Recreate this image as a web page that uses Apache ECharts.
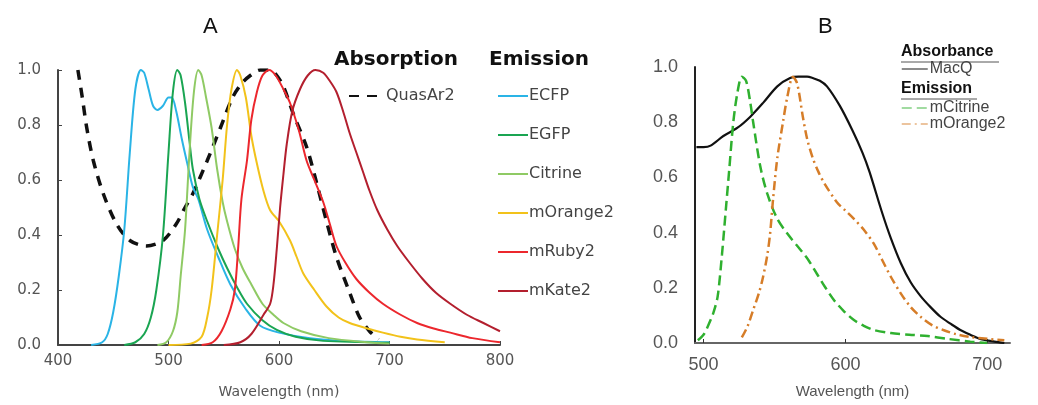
<!DOCTYPE html>
<html>
<head>
<meta charset="utf-8">
<script src="https://cdn.jsdelivr.net/npm/echarts@6/dist/echarts.min.js"></script>
<style>
  html, body { margin: 0; padding: 0; background: #ffffff; }
  #main { width: 1038px; height: 405px; }
</style>
</head>
<body>
<div id="main"></div>
<script>
// panel A: [wavelength nm, normalised value]
var quasAr2 = [[418,1.0],[422,0.9],[426,0.79],[432,0.67],[441,0.55],[453,0.44],[465,0.38],[480,0.36],[495,0.38],[507,0.44],[515,0.5],[522,0.55],[535,0.67],[547,0.79],[558,0.9],[566,0.95],[574,0.98],[583,1.0],[592,1.0],[598,0.98],[604,0.94],[613,0.84],[625,0.72],[634,0.59],[643,0.45],[652,0.32],[664,0.19],[673,0.1],[682,0.05],[690,0.02]];
var ecfp = [[430,0],[440,0.01],[445,0.04],[450,0.12],[455,0.25],[460,0.42],[465,0.7],[470,0.93],[475,1.0],[478,0.99],[482,0.93],[486,0.87],[490,0.855],[495,0.87],[500,0.9],[503,0.9],[507,0.85],[512,0.75],[517,0.66],[522,0.575],[527,0.53],[535,0.42],[545,0.32],[556,0.22],[570,0.13],[583,0.07],[600,0.045],[628,0.025],[660,0.015],[700,0.01]];
var egfp = [[460,0],[470,0.01],[478,0.04],[484,0.1],[489,0.2],[495,0.4],[500,0.7],[504,0.92],[508,1.0],[511,0.98],[515,0.88],[519,0.74],[522,0.64],[528,0.53],[535,0.45],[545,0.35],[553,0.28],[562,0.21],[571,0.15],[585,0.09],[598,0.055],[615,0.03],[640,0.015],[700,0.008]];
var citrine = [[490,0],[498,0.01],[504,0.05],[508,0.12],[511,0.25],[515,0.42],[519,0.7],[523,0.92],[527,1.0],[530,0.98],[534,0.9],[539,0.79],[544,0.64],[549,0.52],[553,0.45],[560,0.35],[567,0.28],[575,0.22],[585,0.15],[595,0.11],[604,0.08],[620,0.05],[645,0.025],[680,0.01],[700,0.005]];
var mOrange2 = [[500,0],[520,0.005],[530,0.03],[535,0.1],[539,0.2],[544,0.4],[549,0.6],[553,0.8],[557,0.93],[562,1.0],[565,0.98],[570,0.9],[575,0.76],[580,0.66],[586,0.56],[592,0.49],[600,0.45],[610,0.38],[616,0.32],[622,0.26],[632,0.2],[643,0.14],[654,0.1],[664,0.08],[680,0.06],[694,0.045],[710,0.03],[725,0.02],[750,0.01]];
var mRuby2 = [[530,0],[540,0.01],[548,0.05],[556,0.13],[560,0.2],[563,0.35],[566,0.53],[571,0.67],[575,0.82],[580,0.92],[585,0.98],[591,1.0],[597,0.98],[604,0.93],[610,0.88],[618,0.78],[625,0.67],[632,0.6],[640,0.52],[646,0.44],[652,0.36],[660,0.3],[670,0.24],[682,0.19],[694,0.15],[710,0.11],[725,0.08],[740,0.06],[755,0.045],[775,0.025],[800,0.01]];
var mKate2 = [[550,0],[565,0.01],[575,0.04],[586,0.11],[592,0.15],[595,0.22],[598,0.35],[601,0.5],[604,0.62],[607,0.73],[612,0.85],[619,0.93],[626,0.98],[633,1.0],[640,0.99],[646,0.96],[652,0.92],[658,0.85],[664,0.77],[670,0.7],[676,0.63],[682,0.56],[689,0.49],[698,0.42],[707,0.36],[718,0.3],[730,0.24],[742,0.19],[755,0.15],[770,0.11],[785,0.08],[800,0.05]];

// panel B
var macQ = [[495,0.71],[500,0.71],[505,0.715],[514,0.75],[524,0.78],[533,0.82],[542,0.87],[552,0.93],[561,0.96],[567,0.965],[573,0.965],[577,0.96],[582,0.95],[587,0.93],[596,0.86],[605,0.77],[612,0.69],[617,0.62],[626,0.47],[632,0.38],[639,0.29],[646,0.22],[653,0.17],[660,0.13],[667,0.095],[674,0.07],[681,0.047],[688,0.03],[695,0.015],[705,0.005],[712,0.0]];
var mCitrine = [[496,0.01],[500,0.03],[503,0.06],[507,0.11],[510,0.17],[513,0.32],[516,0.5],[518,0.62],[521,0.8],[524,0.91],[527,0.965],[530,0.95],[533,0.87],[535,0.8],[540,0.64],[545,0.54],[552,0.45],[560,0.39],[568,0.34],[574,0.3],[580,0.25],[586,0.2],[592,0.155],[599,0.115],[606,0.083],[613,0.062],[620,0.047],[632,0.036],[645,0.03],[658,0.025],[672,0.015],[688,0.005],[700,0]];
var mOrange2B = [[527,0.02],[531,0.06],[535,0.12],[539,0.18],[542,0.24],[545,0.32],[547,0.4],[549,0.52],[552,0.67],[556,0.8],[559,0.89],[563,0.965],[566,0.94],[570,0.82],[573,0.74],[577,0.67],[581,0.62],[585,0.58],[594,0.51],[600,0.48],[606,0.45],[613,0.41],[620,0.36],[626,0.3],[632,0.24],[639,0.18],[646,0.13],[653,0.095],[661,0.065],[669,0.047],[678,0.032],[688,0.022],[700,0.015],[712,0.01]];

var ticksB = [500, 600, 700];

var myChart = echarts.init(document.getElementById('main'));

function line(name, data, color, width, type, axis) {
    return {
        name: name,
        type: 'line',
        xAxisIndex: axis,
        yAxisIndex: axis,
        data: data,
        smooth: 0.3,
        symbol: 'none',
        lineStyle: { color: color, width: width, type: type },
        itemStyle: { color: color }
    };
}

var fontA = 'DejaVu Sans, sans-serif';
var fontB = 'Liberation Sans, Arial, sans-serif';
var oneDecimal = function (v) { return v.toFixed(1); };
// legend icons: line only, hide the marker
var noMarker = { opacity: 0 };

myChart.setOption({
    backgroundColor: '#ffffff',
    animation: false,
    textStyle: { fontFamily: fontB },
    title: [
        { text: 'A', left: 198, top: 11, textStyle: { fontSize: 22, fontWeight: 'normal', color: '#111', fontFamily: fontB } },
        { text: 'B', left: 813, top: 11, textStyle: { fontSize: 22, fontWeight: 'normal', color: '#111', fontFamily: fontB } }
    ],
    grid: [
        { left: 58, right: 538, top: 70, bottom: 60 },
        { left: 695, right: 28, top: 67, bottom: 62 }
    ],
    xAxis: [
        {
            gridIndex: 0, type: 'value', min: 400, max: 800, interval: 100,
            name: 'Wavelength (nm)', nameLocation: 'middle', nameGap: 40,
            nameTextStyle: { fontSize: 14, color: '#555', fontFamily: fontA },
            axisLine: { lineStyle: { color: '#444', width: 2 } },
            axisTick: { inside: true, length: 4, lineStyle: { color: '#444' } },
            axisLabel: { fontSize: 15, color: '#555', margin: 9, fontFamily: fontA },
            splitLine: { show: false }
        },
        {
            gridIndex: 1, type: 'value', min: 494, max: 716,
            name: 'Wavelength (nm)', nameLocation: 'middle', nameGap: 41,
            nameTextStyle: { fontSize: 15, color: '#555' },
            axisLine: { lineStyle: { color: '#666', width: 2 } },
            axisTick: { inside: true, length: 4, customValues: ticksB, lineStyle: { color: '#333' } },
            axisLabel: { fontSize: 18, color: '#555', margin: 13, customValues: ticksB },
            splitLine: { show: false }
        }
    ],
    yAxis: [
        {
            gridIndex: 0, type: 'value', min: 0, max: 1, interval: 0.2,
            axisLine: { show: true, lineStyle: { color: '#444', width: 2 } },
            axisTick: { show: true, inside: true, length: 4, lineStyle: { color: '#444' } },
            axisLabel: { fontSize: 15, color: '#555', margin: 17, fontFamily: fontA, formatter: oneDecimal },
            splitLine: { show: false }
        },
        {
            gridIndex: 1, type: 'value', min: 0, max: 1, interval: 0.2,
            axisLine: { show: true, lineStyle: { color: '#222', width: 2 } },
            axisTick: { show: false },
            axisLabel: { fontSize: 18, color: '#555', margin: 17, formatter: oneDecimal },
            splitLine: { show: false }
        }
    ],
    legend: [
        {
            data: ['QuasAr2'], left: 348, top: 88, padding: 0, itemWidth: 36, itemHeight: 16, itemStyle: noMarker,
            textStyle: { fontSize: 16, color: '#444', fontFamily: fontA, padding: [0, 0, 0, -4] }
        },
        {
            data: ['ECFP', 'EGFP', 'Citrine', 'mOrange2', 'mRuby2', 'mKate2'],
            orient: 'vertical', left: 497, top: 88, padding: 0, itemGap: 23, itemWidth: 30, itemHeight: 16, itemStyle: noMarker,
            textStyle: { fontSize: 16, color: '#444', fontFamily: fontA, padding: [0, 0, 0, -4] }
        },
        {
            data: ['MacQ'], left: 901, top: 61, padding: 0, itemWidth: 26, itemHeight: 16, itemStyle: noMarker,
            lineStyle: { color: '#666', width: 1.5 },
            textStyle: { fontSize: 16, color: '#444', padding: [0, 0, 0, -3] }
        },
        {
            data: ['mCitrine', 'mOrange2 (B)'],
            orient: 'vertical', left: 901, top: 100, padding: 0, itemGap: 0, itemWidth: 26, itemHeight: 16, itemStyle: noMarker,
            lineStyle: { width: 1.5, opacity: 0.6 },
            formatter: function (name) { return name.replace(' (B)', ''); },
            textStyle: { fontSize: 16, lineHeight: 16, color: '#444', padding: [0, 0, 0, -3] }
        }
    ],
    graphic: [
        { type: 'text', left: 334, top: 50, style: { text: 'Absorption', font: 'bold 20px ' + fontA, fill: '#111' } },
        { type: 'text', left: 489, top: 50, style: { text: 'Emission', font: 'bold 20px ' + fontA, fill: '#111' } },
        { type: 'text', left: 901, top: 44, style: { text: 'Absorbance', font: 'bold 16px ' + fontB, fill: '#111' } },
        { type: 'line', shape: { x1: 901, y1: 62, x2: 999, y2: 62 }, style: { stroke: '#555', lineWidth: 1 } },
        { type: 'text', left: 901, top: 81, style: { text: 'Emission', font: 'bold 16px ' + fontB, fill: '#111' } },
        { type: 'line', shape: { x1: 901, y1: 99, x2: 977, y2: 99 }, style: { stroke: '#555', lineWidth: 1 } }
    ],
    series: [
        line('QuasAr2', quasAr2, '#111111', 3.5, [10, 8], 0),
        line('ECFP', ecfp, '#2ab4e6', 2, 'solid', 0),
        line('EGFP', egfp, '#1aa552', 2, 'solid', 0),
        line('Citrine', citrine, '#8fca64', 2, 'solid', 0),
        line('mOrange2', mOrange2, '#f2c21a', 2, 'solid', 0),
        line('mRuby2', mRuby2, '#ec272d', 2, 'solid', 0),
        line('mKate2', mKate2, '#b31f2e', 2, 'solid', 0),
        line('MacQ', macQ, '#111111', 2.2, 'solid', 1),
        line('mCitrine', mCitrine, '#2fb02f', 2.5, [10, 5], 1),
        line('mOrange2 (B)', mOrange2B, '#d67d28', 2.5, [9, 4, 2, 4], 1)
    ]
});
</script>
</body>
</html>
